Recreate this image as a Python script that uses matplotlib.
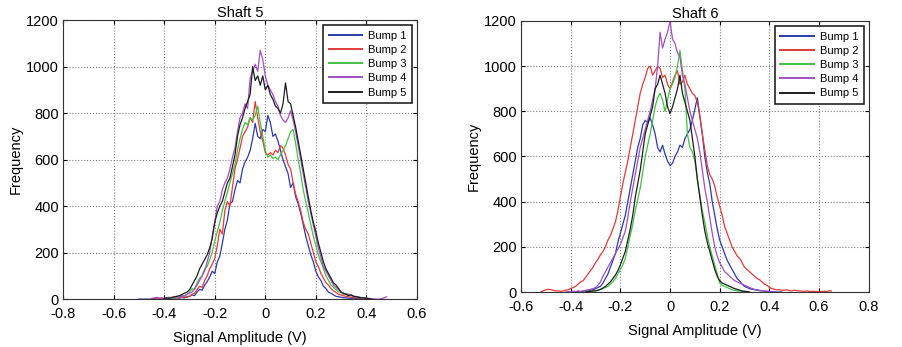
import matplotlib.pyplot as plt
import numpy as np

plt.rcParams['font.family'] = ['Liberation Sans', 'DejaVu Sans']

# Histogram counts, one value per 0.01 V bin
# Shaft 5
s5_starts = [-0.50, -0.45, -0.40, -0.45, -0.40]
s5_bump1 = [0, 0, 0, 0, 0, 0, 2, 0, 3, 0, 2, 4, 0, 3, 5, 6, 4, 8, 5, 10,
            12, 18, 15, 30, 42, 38, 60, 75, 95, 120, 110, 160, 185, 240, 300, 340, 410, 420, 470, 510,
            500, 560, 590, 610, 640, 690, 756, 700, 690, 730, 720, 790, 760, 700, 710, 680, 640, 600, 570, 540,
            480, 500, 440, 410, 370, 320, 270, 230, 190, 160, 120, 95, 80, 55, 45, 30, 25, 18, 12, 10,
            8, 6, 5, 4, 3, 4, 2, 2, 1, 0, 0]
s5_bump2 = [0, 2, 0, 3, 0, 2, 3, 4, 2, 5, 5, 8, 6, 10, 8,
            12, 20, 25, 40, 55, 50, 80, 100, 130, 150, 175, 230, 300, 280, 380, 420, 400, 480, 560, 600,
            650, 700, 720, 740, 780, 760, 850, 780, 720, 680, 630, 620, 630, 620, 640, 630, 660, 650, 620, 580,
            560, 500, 450, 420, 380, 330, 300, 280, 240, 200, 160, 140, 110, 90, 70, 60, 45, 35, 28, 20,
            18, 14, 12, 10, 8, 6, 5, 6, 3, 2, 3, 1, 0]
s5_bump3 = [0, 3, 2, 5, 4, 8, 10, 15, 12, 20,
            30, 45, 40, 70, 90, 100, 130, 140, 170, 200, 250, 290, 330, 380, 420, 460, 500, 540, 580, 640,
            690, 730, 760, 750, 780, 770, 790, 830, 760, 700, 640, 610, 620, 605, 610, 600, 620, 640, 660, 690,
            720, 730, 670, 600, 540, 470, 420, 370, 320, 270, 230, 190, 160, 130, 100, 80, 60, 50, 40, 30,
            30, 20, 25, 15, 18, 12, 10, 8, 6, 5, 4, 2, 0]
s5_bump4 = [3, 5, 8, 4, 6, 3, 5, 8, 4, 6, 10, 8, 12, 15, 20,
            25, 30, 45, 60, 80, 100, 120, 160, 200, 270, 330, 400, 420, 470, 500, 520, 560, 610, 650, 720,
            780, 800, 840, 820, 950, 980, 1010, 980, 1070, 1030, 960, 920, 900, 880, 850, 830, 790, 770, 760, 780,
            810, 770, 720, 660, 600, 540, 480, 420, 370, 320, 270, 220, 180, 140, 120, 100, 80, 60, 50, 40,
            30, 25, 20, 22, 15, 10, 12, 8, 6, 5, 4, 3, 2, 1, 0, 0, 2, 5, 10]
s5_bump5 = [2, 5, 3, 8, 10, 12, 15, 20, 25, 30,
            40, 60, 80, 100, 130, 150, 170, 190, 220, 260, 330, 370, 400, 420, 460, 500, 520, 570, 620, 700,
            750, 780, 820, 850, 880, 1000, 940, 960, 920, 960, 900, 920, 880, 860, 830, 820, 800, 840, 930, 850,
            840, 790, 740, 680, 620, 560, 500, 440, 380, 330, 290, 240, 200, 160, 130, 110, 90, 70, 60, 45,
            30, 25, 20, 15, 18, 12, 10, 8, 6, 5, 3, 2, 0]

# Shaft 6
s6_starts = [-0.38, -0.52, -0.34, -0.42, -0.34]
s6_bump1 = [0, 2, 0, 3, 5, 4, 8, 10,
            15, 20, 25, 40, 60, 80, 110, 140, 170, 220, 260, 300, 340, 400, 460, 520, 580, 640, 680, 740,
            760, 750, 770, 740, 700, 640, 620, 650, 610, 580, 560, 570, 600, 620, 650, 640, 680, 700, 720, 760,
            810, 860, 780, 700, 600, 530, 480, 400, 340, 280, 230, 200, 170, 140, 120, 100, 80, 60, 50, 35,
            25, 20, 15, 12, 10, 8, 6, 5, 4, 3, 2, 2, 1, 0, 0, 0]
s6_bump2 = [0, 5, 10, 12, 10, 8, 5, 5, 3, 5, 8, 10,
            15, 20, 25, 35, 45, 50, 65, 80, 95, 110, 130, 145, 165, 180, 200, 230, 250, 280, 310, 360,
            420, 480, 530, 580, 640, 700, 760, 820, 880, 920, 950, 990, 1000, 960, 980, 1000, 990, 950, 960, 920,
            900, 930, 960, 980, 920, 930, 960, 920, 900, 880, 870, 840, 780, 700, 630, 560, 520, 500, 470, 420,
            380, 340, 290, 260, 230, 200, 180, 160, 150, 130, 110, 100, 90, 80, 70, 60, 55, 45, 35, 30,
            20, 15, 12, 10, 10, 8, 8, 10, 6, 5, 8, 6, 5, 4, 3, 5, 3, 2, 3, 2, 1, 2, 3, 2, 5, 5]
s6_bump3 = [0, 2, 3, 5,
            5, 8, 10, 15, 20, 25, 35, 45, 60, 80, 100, 120, 150, 200, 250, 300, 360, 410, 460, 530,
            600, 650, 700, 760, 820, 860, 880, 850, 800, 850, 900, 920, 950, 1000, 1070, 980, 900, 700, 640, 620,
            580, 500, 430, 360, 310, 250, 200, 160, 120, 80, 40, 30, 25, 20, 15, 10,
            8, 5, 5, 3, 2, 1, 0]
s6_bump4 = [0, 2, 0, 3, 2, 5, 3, 5, 8, 10, 12, 15,
            20, 30, 45, 70, 90, 110, 130, 150, 170, 190, 210, 240, 270, 330, 400, 460, 520, 580, 640, 680,
            720, 760, 800, 850, 900, 1000, 1150, 1080, 1120, 1150, 1200, 1120, 1100, 1060, 1040, 960, 920, 860, 800, 760,
            720, 680, 620, 540, 460, 400, 330, 260, 200, 160, 130, 110, 90, 80, 70, 60, 50, 45, 40, 35,
            30, 25, 20, 15, 12, 10, 8, 6, 5, 3, 2, 1, 0]
s6_bump5 = [0, 2, 3, 5,
            5, 8, 12, 18, 25, 35, 45, 60, 75, 95, 120, 150, 180, 230, 280, 340, 420, 480, 540, 620,
            700, 740, 780, 820, 900, 920, 960, 920, 880, 820, 790, 820, 860, 900, 960, 880, 840, 800, 760, 680,
            600, 500, 420, 340, 270, 220, 180, 140, 100, 70, 50, 40, 35, 30, 25, 20,
            15, 12, 8, 5, 3, 2, 0]

labels = ['Bump 1', 'Bump 2', 'Bump 3', 'Bump 4', 'Bump 5']
colors = ['#2b3aa8', '#e23a3a', '#45c045', '#a050c0', '#1e1e1e']

x_ticks5 = [-0.8, -0.6, -0.4, -0.2, 0, 0.2, 0.4, 0.6]
x_ticks6 = [-0.6, -0.4, -0.2, 0, 0.2, 0.4, 0.6, 0.8]
y_ticks = [0, 200, 400, 600, 800, 1000, 1200]

fig = plt.figure(figsize=(9.03, 3.47), dpi=100)
ax1 = fig.add_axes([0.0698, 0.138, 0.392, 0.804])
ax2 = fig.add_axes([0.577, 0.1585, 0.385, 0.781])


def draw(ax, title, starts, series, xticks):
    for start, vals, lab, col in zip(starts, series, labels, colors):
        x = start + 0.01 * np.arange(len(vals))
        ax.plot(x, vals, color=col, lw=0.9, label=lab)
    ax.set_xlim(xticks[0], xticks[-1])
    ax.set_ylim(0, 1200)
    ax.set_xticks(xticks)
    ax.set_xticklabels(['0' if t == 0 else f'{t:g}' for t in xticks])
    ax.set_yticks(y_ticks)
    ax.grid(True, linestyle=':', color='#808080', lw=0.8)
    ax.tick_params(direction='in', top=True, right=True, labelsize=10.5, length=3)
    ax.tick_params(axis='x', pad=6)
    ax.tick_params(axis='y', pad=3)
    for sp in ax.spines.values():
        sp.set_color('#333333')
    ax.set_title(title, fontsize=10.5, pad=2)
    ax.set_xlabel('Signal Amplitude (V)', fontsize=10.5, labelpad=7)
    ax.set_ylabel('Frequency', fontsize=10.5, labelpad=2)
    leg = ax.legend(loc='upper right', fontsize=8, fancybox=False, framealpha=1,
                    handlelength=3.0, handletextpad=0.55, labelspacing=0.38,
                    borderpad=0.5, borderaxespad=0.45)
    leg.get_frame().set_edgecolor('#222222')
    leg.get_frame().set_linewidth(1.2)
    for ln in leg.get_lines():
        ln.set_linewidth(1.4)


draw(ax1, 'Shaft 5', s5_starts, [s5_bump1, s5_bump2, s5_bump3, s5_bump4, s5_bump5], x_ticks5)
draw(ax2, 'Shaft 6', s6_starts, [s6_bump1, s6_bump2, s6_bump3, s6_bump4, s6_bump5], x_ticks6)

fig.savefig('out.png', dpi=100)
